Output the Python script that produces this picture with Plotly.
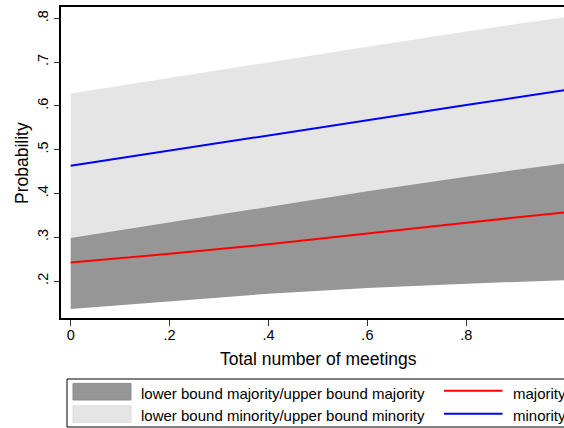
import plotly.graph_objects as go

# ---- data ----
x_meetings = [0.0, 0.2, 0.4, 0.6, 0.8, 1.0]
majority = [0.242, 0.262, 0.284, 0.309, 0.333, 0.357]
minority = [0.463, 0.498, 0.533, 0.568, 0.602, 0.636]
lb_majority = [0.136, 0.154, 0.171, 0.184, 0.194, 0.202]
ub_majority = [0.298, 0.334, 0.370, 0.405, 0.438, 0.469]
lb_minority = [0.296, 0.330, 0.362, 0.394, 0.424, 0.452]
ub_minority = [0.628, 0.664, 0.699, 0.735, 0.770, 0.803]

x_ticks = [0, 0.2, 0.4, 0.6, 0.8, 1]
x_ticklabels = ["0", ".2", ".4", ".6", ".8", "1"]
y_ticks = [0.2, 0.3, 0.4, 0.5, 0.6, 0.7, 0.8]
y_ticklabels = [".2", ".3", ".4", ".5", ".6", ".7", ".8"]

legend_labels = ["lower bound majority/upper bound majority",
                 "lower bound minority/upper bound minority",
                 "majority", "minority"]

DARK = "#969696"
LIGHT = "#e5e5e5"
RED = "#ff0000"
BLUE = "#0000ff"
FONT = "Liberation Sans, Arial, sans-serif"

W, H = 564, 428
L, R, T, B = 61, 564, 7, 318


def px(xp):
    return (xp - L) / (R - L)


def py(yp):
    return (B - yp) / (B - T)


fig = go.Figure()
# minority band (light)
fig.add_trace(go.Scatter(x=x_meetings, y=lb_minority, mode="lines",
                         line=dict(width=0, color=LIGHT), showlegend=False, hoverinfo="skip"))
fig.add_trace(go.Scatter(x=x_meetings, y=ub_minority, mode="lines", fill="tonexty",
                         fillcolor=LIGHT, line=dict(width=0, color=LIGHT), showlegend=False))
# majority band (dark)
fig.add_trace(go.Scatter(x=x_meetings, y=lb_majority, mode="lines",
                         line=dict(width=0, color=DARK), showlegend=False, hoverinfo="skip"))
fig.add_trace(go.Scatter(x=x_meetings, y=ub_majority, mode="lines", fill="tonexty",
                         fillcolor=DARK, line=dict(width=0, color=DARK), showlegend=False))
# lines
fig.add_trace(go.Scatter(x=x_meetings, y=majority, mode="lines",
                         line=dict(width=2, color=RED), showlegend=False))
fig.add_trace(go.Scatter(x=x_meetings, y=minority, mode="lines",
                         line=dict(width=2, color=BLUE), showlegend=False))

shapes = []
annotations = []

# manual legend (Stata style)
shapes.append(dict(type="rect", xref="paper", yref="paper",
                   x0=px(67), x1=px(600), y0=py(379), y1=py(427),
                   line=dict(color="black", width=1), fillcolor="white", layer="above"))
swatch_rows = [391.7, 414.0]
text_rows = [393.5, 415.5]
for i, (ys, yt, col) in enumerate(zip(swatch_rows, text_rows, [DARK, LIGHT])):
    shapes.append(dict(type="rect", xref="paper", yref="paper",
                       x0=px(73), x1=px(131), y0=py(ys - 8.3), y1=py(ys + 8.3),
                       line=dict(color="#8c8c8c" if i == 0 else "#dcdcdc", width=1),
                       fillcolor=col, layer="above"))
    annotations.append(dict(text=legend_labels[i], xref="paper", yref="paper",
                            x=px(139), y=py(yt), xanchor="left", yanchor="middle",
                            showarrow=False, font=dict(size=15, color="black", family=FONT)))
for i, (ys, yt, col) in enumerate(zip([390.7, 413.7], text_rows, [RED, BLUE])):
    shapes.append(dict(type="line", xref="paper", yref="paper",
                       x0=px(444), x1=px(502.5), y0=py(ys), y1=py(ys),
                       line=dict(color=col, width=2), layer="above"))
    annotations.append(dict(text=legend_labels[2 + i], xref="paper", yref="paper",
                            x=px(510.5), y=py(yt), xanchor="left", yanchor="middle",
                            showarrow=False, font=dict(size=15, color="black", family=FONT)))

# axis titles
annotations.append(dict(text="Total number of meetings", xref="paper", yref="paper",
                        x=px(318), y=py(358.5), xanchor="center", yanchor="middle",
                        showarrow=False, font=dict(size=17.5, color="black", family=FONT)))
annotations.append(dict(text="Probability", xref="paper", yref="paper",
                        x=px(22), y=py(163), xanchor="center", yanchor="middle", textangle=-90,
                        showarrow=False, font=dict(size=17.5, color="black", family=FONT)))

fig.update_layout(
    width=W, height=H,
    margin=dict(l=L, r=W - R, t=T, b=H - B),
    paper_bgcolor="white", plot_bgcolor="white",
    showlegend=False,
    shapes=shapes, annotations=annotations,
    font=dict(family=FONT, color="black"),
)
fig.update_xaxes(range=[-0.0196, (R - 70.7) / 494.5], tickvals=x_ticks, ticktext=x_ticklabels,
                 showgrid=False, zeroline=False, showline=True, mirror=True,
                 linecolor="black", linewidth=1.5, ticks="outside", ticklen=6,
                 tickcolor="#333333", tickwidth=1, ticklabelstandoff=-3,
                 tickfont=dict(size=14.5, family=FONT))
fig.update_yaxes(range=[0.1155, 0.8258], tickvals=y_ticks, ticktext=y_ticklabels,
                 showgrid=False, zeroline=False, showline=True, mirror=False,
                 linecolor="black", linewidth=1.5, ticks="outside", ticklen=5,
                 tickcolor="#333333", tickwidth=1, tickangle=-90,
                 tickfont=dict(size=14.5, family=FONT))

fig.write_html("out.html", config={"displayModeBar": False},
               post_script="document.body.style.margin='0';document.body.style.overflow='hidden';")
